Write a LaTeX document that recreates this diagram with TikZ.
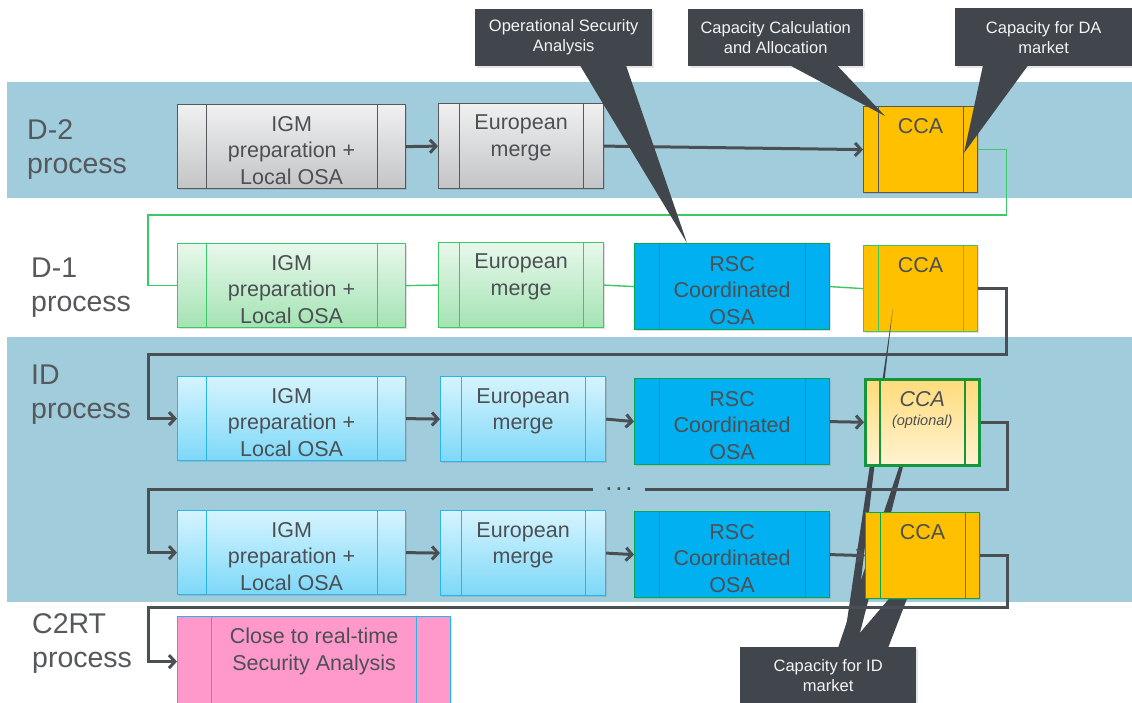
\documentclass[tikz,border=0pt]{standalone}
\usepackage{fontspec}
\setmainfont{Liberation Sans}
\usepackage{tikz}
\usetikzlibrary{arrows.meta,positioning,shadows}

\definecolor{band}{HTML}{A0CCDC}
\definecolor{ink}{HTML}{4C5054}
\definecolor{lanegrey}{HTML}{55585C}
\definecolor{linkgrey}{HTML}{4A4F54}
\definecolor{notegrey}{HTML}{40464B}
\definecolor{notetext}{HTML}{F4F4F4}
\definecolor{greyedge}{HTML}{55595D}
\definecolor{greytop}{HTML}{F0F0F1}
\definecolor{greybot}{HTML}{C3C4C6}
\definecolor{greenedge}{HTML}{3CC864}
\definecolor{greentop}{HTML}{E8F8EC}
\definecolor{greenbot}{HTML}{A3E3B2}
\definecolor{blueedge}{HTML}{29B4EC}
\definecolor{bluetop}{HTML}{D6F4FE}
\definecolor{bluebot}{HTML}{7DD8F8}
\definecolor{rscfill}{HTML}{00B0F0}
\definecolor{rscedge}{HTML}{00A84E}
\definecolor{ccafill}{HTML}{FFC000}
\definecolor{optedge}{HTML}{14963C}
\definecolor{opttop}{HTML}{FFDB7A}
\definecolor{optbot}{HTML}{FFF3D2}
\definecolor{rtfill}{HTML}{FF99CC}

\tikzset{
  proc/.style={draw, rectangle, anchor=north west, inner sep=0pt, line width=1.2pt,
    drop shadow={shadow xshift=1.5pt, shadow yshift=-1.5pt, opacity=0.25}},
  bars/.style 2 args={path picture={
      \draw[line width=1.2pt, #2]
        ([xshift=#1]path picture bounding box.north west) -- ([xshift=#1]path picture bounding box.south west)
        ([xshift=-#1]path picture bounding box.north east) -- ([xshift=-#1]path picture bounding box.south east);}},
  igm/.style={proc, draw=#1, minimum width=228pt, minimum height=84pt, bars={28.5pt}{#1}},
  merge/.style={proc, draw=#1, minimum width=165pt, minimum height=85pt, bars={20.5pt}{#1}},
  rsc/.style={proc, draw=#1, fill=rscfill, minimum width=195pt, minimum height=86pt, bars={24.5pt}{#1}},
  cca/.style={proc, draw=#1, minimum width=114pt, minimum height=86pt, bars={14.5pt}{#1}},
  greyfill/.style={top color=greytop, bottom color=greybot},
  greenfill/.style={top color=greentop, bottom color=greenbot},
  bluefill/.style={top color=bluetop, bottom color=bluebot},
  boxtext/.style={anchor=north, inner sep=0pt, align=center, text=ink, font=\fontsize{21.5}{26.5}\selectfont},
  lanetext/.style={anchor=north west, inner sep=0pt, align=left, text=lanegrey, font=\fontsize{28.5}{34}\selectfont},
  note/.style={anchor=north west, fill=notegrey, text=notetext, align=center, inner sep=0pt,
    minimum height=57pt, font=\fontsize{16.5}{20}\selectfont,
    drop shadow={shadow xshift=1.5pt, shadow yshift=-1.5pt, opacity=0.2}},
  link/.style={draw=linkgrey, line width=3pt, -{Straight Barb[length=6pt,width=13pt]}},
  greenlink/.style={draw=greenedge, line width=1.4pt},
}

\begin{document}
\begin{tikzpicture}[x=1pt,y=-1pt]
  \useasboundingbox (0,0) rectangle (1132,702);
  \fill[white] (0,0) rectangle (1132,702);

  \fill[band] (7,82) rectangle (1132,198);
  \fill[band] (7,337) rectangle (1132,602);

  \node[lanetext] (laneA) at (27,119) {D-2\\process};
  \node[lanetext] (laneB) at (31,258) {D-1\\process};
  \node[lanetext] (laneC) at (31,365) {ID\\process};
  \node[lanetext] (laneD) at (32,613) {C2RT\\process};

  % D-2
  \node[igm=greyedge, greyfill] (igmA) at (177,104) {};
  \node[boxtext, below=12pt of igmA.north] (igmAtxt) {IGM\\preparation +\\Local OSA};
  \node[merge=greyedge, greyfill] (emA) at (438,103) {};
  \node[boxtext, below=12pt of emA.north] (emAtxt) {European\\merge};
  \node[cca=greyedge, fill=ccafill] (ccaA) at (863,106) {};
  \node[boxtext, below=12pt of ccaA.north] (ccaAtxt) {CCA};

  % D-1
  \node[igm=greenedge, greenfill] (igmB) at (177,243) {};
  \node[boxtext, below=12pt of igmB.north] (igmBtxt) {IGM\\preparation +\\Local OSA};
  \node[merge=greenedge, greenfill] (emB) at (438,242) {};
  \node[boxtext, below=12pt of emB.north] (emBtxt) {European\\merge};
  \node[rsc=rscedge] (rscB) at (634,243) {};
  \node[boxtext, below=13pt of rscB.north] (rscBtxt) {RSC\\Coordinated\\OSA};
  \node[cca=greenedge, fill=ccafill] (ccaB) at (863,245) {};
  \node[boxtext, below=12pt of ccaB.north] (ccaBtxt) {CCA};

  % ID market note, its pointers run under the ID boxes
  \node[note, minimum width=176pt] (idNote) at (740,647) {Capacity for ID\\market};
  \coordinate (idTipA) at (893,308);
  \coordinate (idTipB) at (915,420);
  \coordinate (idTipC) at (922,560);
  \fill[notegrey] ([xshift=103pt,yshift=-1pt]idNote.north west) -- (idTipA) -- ([xshift=113pt,yshift=-1pt]idNote.north west) -- cycle;
  \fill[notegrey] ([xshift=98pt,yshift=-1pt]idNote.north west) -- (idTipB) -- ([xshift=116pt,yshift=-1pt]idNote.north west) -- cycle;
  \fill[notegrey] ([xshift=107pt,yshift=-1pt]idNote.north west) -- (idTipC) -- ([xshift=148pt,yshift=-1pt]idNote.north west) -- cycle;

  % ID, first run
  \node[igm=blueedge, bluefill] (igmC) at (177,376) {};
  \node[boxtext, below=12pt of igmC.north] (igmCtxt) {IGM\\preparation +\\Local OSA};
  \node[merge=blueedge, bluefill] (emC) at (440,376) {};
  \node[boxtext, below=12pt of emC.north] (emCtxt) {European\\merge};
  \node[rsc=rscedge] (rscC) at (634,378) {};
  \node[boxtext, below=13pt of rscC.north] (rscCtxt) {RSC\\Coordinated\\OSA};
  \node[cca=optedge, line width=2.5pt, top color=opttop, bottom color=optbot,
    bars={14.5pt}{optedge, line width=2.5pt}] (ccaC) at (864,378) {};
  \node[boxtext, below=13pt of ccaC.north] (ccaCtxt)
    {\itshape CCA\\[-7pt]{\fontsize{14.5}{17}\selectfont\itshape (optional)}};

  % ID, last run
  \node[igm=blueedge, bluefill] (igmD) at (177,510) {};
  \node[boxtext, below=12pt of igmD.north] (igmDtxt) {IGM\\preparation +\\Local OSA};
  \node[merge=blueedge, bluefill] (emD) at (440,510) {};
  \node[boxtext, below=12pt of emD.north] (emDtxt) {European\\merge};
  \node[rsc=rscedge] (rscD) at (634,511) {};
  \node[boxtext, below=13pt of rscD.north] (rscDtxt) {RSC\\Coordinated\\OSA};
  \node[cca=rscedge, fill=ccafill] (ccaD) at (865,512) {};
  \node[boxtext, below=12pt of ccaD.north] (ccaDtxt) {CCA};

  % C2RT
  \node[proc, draw=blueedge, fill=rtfill, minimum width=273pt, minimum height=90pt,
    bars={34pt}{blueedge}] (rtE) at (177,616) {};
  \node[boxtext, below=12pt of rtE.north] (rtEtxt) {Close to real-time\\Security Analysis};

  \node[inner sep=0pt, minimum width=52pt, text height=2.7pt, text depth=0pt, text=linkgrey,
    font=\fontsize{26}{26}\selectfont] (gapDots) at (619,489) {.\hspace{2.8pt}.\hspace{2.8pt}.};

  \draw[link] (igmA.east) -- (emA.west);
  \draw[link] (emA.east) -- (ccaA.west);
  \draw[greenlink] (ccaA.east) -- ++(28,0) |- (148,215) |- (igmB.west);
  \draw[greenlink] (igmB.east) -- (emB.west);
  \draw[greenlink] (emB.east) -- (rscB.west);
  \draw[greenlink] (rscB.east) -- (ccaB.west);
  \draw[link] (ccaB.east) -- ++(28,0) |- (148,354) |- (igmC.west);
  \draw[link] (igmC.east) -- (emC.west);
  \draw[link] (emC.east) -- (rscC.west);
  \draw[link] (rscC.east) -- (ccaC.west);
  \draw[link] (ccaC.east) -- ++(27,0) |- (gapDots.east) (gapDots.west) -- (148,489) |- (igmD.west);
  \draw[link] (igmD.east) -- (emD.west);
  \draw[link] (emD.east) -- (rscD.west);
  \draw[link] (rscD.east) -- (ccaD.west);
  \draw[link] (ccaD.east) -- ++(27,0) |- (148,607) |- (rtE.west);

  % notes over the top row
  \node[note, minimum width=177pt] (osaNote) at (475,9) {Operational Security\\Analysis};
  \coordinate (osaTip) at (687,243);
  \fill[notegrey] ([xshift=105pt,yshift=1pt]osaNote.south west) -- (osaTip) -- ([xshift=151pt,yshift=1pt]osaNote.south west) -- cycle;
  \node[note, minimum width=175pt] (ccaNote) at (688,9) {Capacity Calculation\\and Allocation};
  \coordinate (ccaTip) at (885,116);
  \fill[notegrey] ([xshift=102pt,yshift=1pt]ccaNote.south west) -- (ccaTip) -- ([xshift=149pt,yshift=1pt]ccaNote.south west) -- cycle;
  \node[note, minimum width=177pt, minimum height=58pt] (daNote) at (955,8) {Capacity for DA\\market};
  \coordinate (daTip) at (964,153);
  \fill[notegrey] ([xshift=28pt,yshift=1pt]daNote.south west) -- (daTip) -- ([xshift=73pt,yshift=1pt]daNote.south west) -- cycle;
\end{tikzpicture}
\end{document}
